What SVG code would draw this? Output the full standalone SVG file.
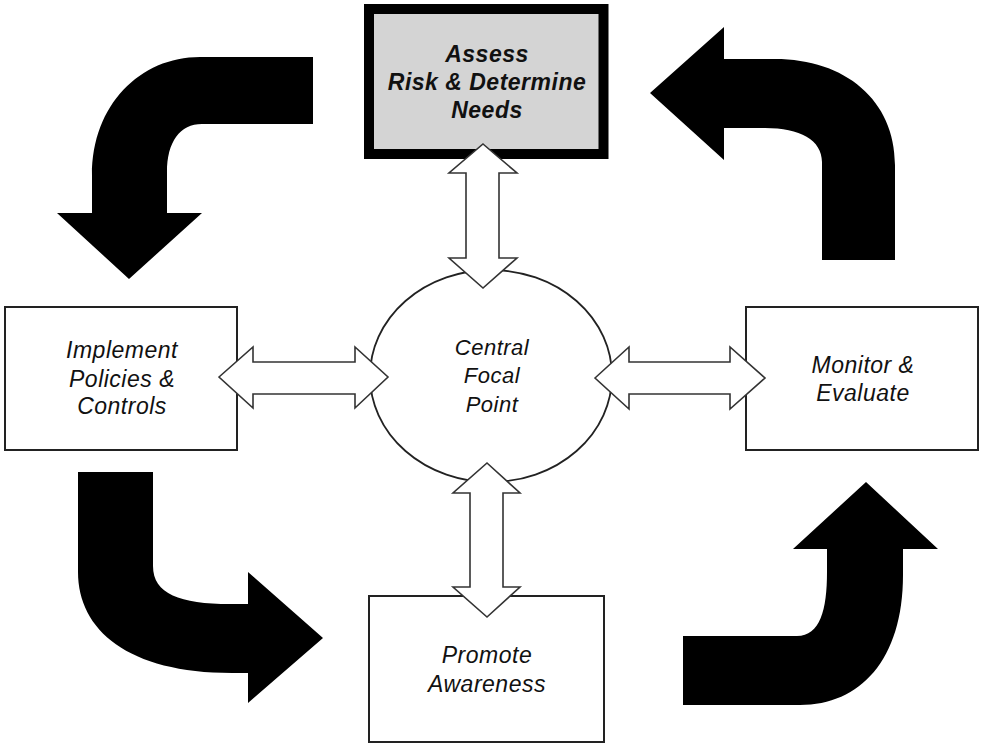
<svg xmlns="http://www.w3.org/2000/svg" width="981" height="744" viewBox="0 0 981 744">
<style>
.box{fill:#fff;stroke:#222;stroke-width:2}
.lbl{font-family:"Liberation Sans",Arial,sans-serif;font-style:italic;font-size:23px;letter-spacing:0.5px;fill:#111;text-anchor:middle}
.bold{font-weight:bold}
.dbl{fill:#fff;stroke:#333;stroke-width:1.6;stroke-linejoin:miter}
.big{fill:#000}
</style>
<rect width="981" height="744" fill="#fff"/>
<g id="flow">
<path class="big" d="M313,57 L200,57 C140,57 92,105 92,175 L92,213 L57,213 L129,279 L202,213 L167,213 L167,172 C167,142 180,124 202,124 L313,124 Z"/>
<path class="big" d="M822,260 L822,162 C822,140 800,128 765,128 L724,128 L724,160 L650,93 L724,27 L724,59 L775,59 C845,59 895,100 895,165 L895,260 Z"/>
<path class="big" d="M78,472 L153,472 L153,566 C153,594 180,604 230,604 L248,604 L248,572 L323,638 L248,703 L248,673 L232,673 C128,673 78,630 78,572 Z"/>
<path class="big" d="M683,636 L797,636 C820,636 827,610 827,572 L827,549 L793,549 L866,482 L938,549 L903,549 L903,575 C903,660 860,705 800,705 L683,705 Z"/>
</g>
<g id="assess">
<rect x="369" y="9" width="234.5" height="145" fill="#d4d4d4" stroke="#000" stroke-width="10"/>
<text class="lbl bold" x="487" y="62">Assess</text>
<text class="lbl bold" x="487" y="90">Risk &amp; Determine</text>
<text class="lbl bold" x="487" y="118">Needs</text>
</g>
<g id="implement">
<rect class="box" x="5" y="307" width="232" height="143"/>
<text class="lbl" x="122" y="358">Implement</text>
<text class="lbl" x="122" y="387">Policies &amp;</text>
<text class="lbl" x="122" y="414">Controls</text>
</g>
<g id="monitor">
<rect class="box" x="746" y="307" width="232" height="143"/>
<text class="lbl" x="863" y="373">Monitor &amp;</text>
<text class="lbl" x="863" y="401">Evaluate</text>
</g>
<g id="promote">
<rect class="box" x="369" y="596" width="235" height="146"/>
<text class="lbl" x="487" y="663">Promote</text>
<text class="lbl" x="487" y="692">Awareness</text>
</g>
<g id="central">
<ellipse cx="491" cy="376" rx="121" ry="106" fill="#fff" stroke="#222" stroke-width="1.8"/>
<text class="lbl" style="font-size:22px" x="492" y="355">Central</text>
<text class="lbl" style="font-size:22px" x="492" y="383">Focal</text>
<text class="lbl" style="font-size:22px" x="492" y="412">Point</text>
</g>
<g id="connectors">
<path class="dbl" d="M483,144 L517,173 L499,173 L499,258 L517,258 L483,288 L449,258 L466,258 L466,173 L449,173 Z"/>
<path class="dbl" d="M487,463 L520,493 L503,493 L503,587 L520,587 L487,617 L453,587 L470,587 L470,493 L453,493 Z"/>
<path class="dbl" d="M219,377 L253,347 L253,362 L355,362 L355,347 L388,377 L355,408 L355,394 L253,394 L253,408 Z"/>
<path class="dbl" d="M595,378 L629,347 L629,362 L730,362 L730,347 L765,378 L730,409 L730,394 L629,394 L629,409 Z"/>
</g>
</svg>
